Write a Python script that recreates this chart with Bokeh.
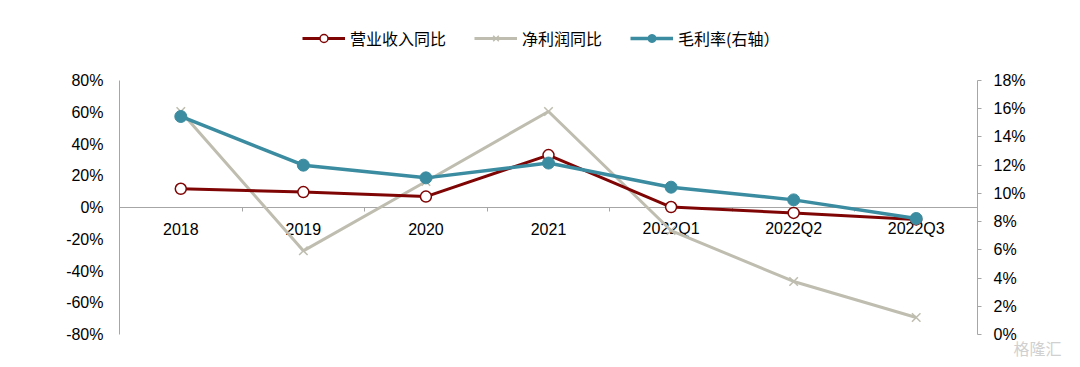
from bokeh.plotting import figure
from bokeh.models import (Range1d, LinearAxis, FixedTicker, CustomJSTickFormatter,
                          PrintfTickFormatter, Legend, LegendItem, Title)
from bokeh.core.properties import value
from bokeh.embed import file_html
from bokeh.resources import INLINE

categories = ["2018", "2019", "2020", "2021", "2022Q1", "2022Q2", "2022Q3"]
revenue_yoy = [11.8, 9.7, 6.9, 33.0, 0.3, -3.4, -7.5]          # 营业收入同比 (%)
profit_yoy = [60.5, -27.3, 16.4, 60.5, -14.5, -46.6, -69.3]     # 净利润同比 (%)
gross_margin = [15.45, 12.0, 11.1, 12.15, 10.44, 9.54, 8.22]    # 毛利率 (%, right axis)
left_ticks = [-80, -60, -40, -20, 0, 20, 40, 60, 80]
right_ticks = [0, 2, 4, 6, 8, 10, 12, 14, 16, 18]

RED = "#7F0505"
GREY = "#BEBDAF"
TEAL = "#3B8CA0"
AXIS = "#A6A6A6"
FONT = "Liberation Sans"
CJK = "Noto Sans CJK SC"

xs = [i + 0.5 for i in range(len(categories))]

# frame extends above the axes so that the legend sits inside it
p = figure(frame_width=858, frame_height=312, output_backend="svg", toolbar_location=None,
           x_range=Range1d(0, len(categories)), y_range=Range1d(-80, 116.54),
           x_axis_location=None, y_axis_location=None,
           min_border_left=119, min_border_right=87, min_border_top=22, min_border_bottom=0)
p.outline_line_color = None
p.xgrid.visible = False
p.ygrid.visible = False
p.extra_y_ranges = {"right": Range1d(0, 22.11)}

# x axis line + boundary ticks at y = 0
xaxis = LinearAxis(ticker=FixedTicker(ticks=xs, minor_ticks=list(range(1, len(categories)))),
                   formatter=CustomJSTickFormatter(code="return '';"))
xaxis.fixed_location = 0
xaxis.axis_line_color = AXIS
xaxis.major_tick_line_color = None
xaxis.major_tick_in = 0
xaxis.major_tick_out = 0
xaxis.minor_tick_line_color = AXIS
xaxis.minor_tick_in = 0
xaxis.minor_tick_out = 4
xaxis.major_label_standoff = 0
xaxis.major_label_text_font_size = "0px"
xaxis.level = "underlay"
p.add_layout(xaxis, "below")

# left axis
laxis = LinearAxis(ticker=FixedTicker(ticks=left_ticks), formatter=PrintfTickFormatter(format="%d%%"),
                   bounds=(-80, 80))
laxis.axis_line_color = AXIS
laxis.major_tick_line_color = None
laxis.major_tick_in = 0
laxis.major_tick_out = 0
laxis.minor_tick_line_color = None
laxis.major_label_standoff = 16
laxis.major_label_text_font = FONT
laxis.major_label_text_font_size = "16px"
laxis.major_label_text_color = "#000000"
p.add_layout(laxis, "left")

# right axis
raxis = LinearAxis(y_range_name="right", ticker=FixedTicker(ticks=right_ticks),
                   formatter=PrintfTickFormatter(format="%d%%"), bounds=(0, 18))
raxis.axis_line_color = AXIS
raxis.major_tick_line_color = AXIS
raxis.major_tick_in = 0
raxis.major_tick_out = 4
raxis.minor_tick_line_color = None
raxis.major_label_standoff = 12
raxis.major_label_text_font = FONT
raxis.major_label_text_font_size = "16px"
raxis.major_label_text_color = "#000000"
p.add_layout(raxis, "right")

# category labels just under the zero line
p.text(x=xs, y=[0] * len(categories), text=categories, text_align="center",
       text_baseline="middle", y_offset=21, text_font=value(FONT),
       text_font_size="16px", text_color="#000000")

# series
l_profit = p.line(xs, profit_yoy, line_color=GREY, line_width=3)
m_profit = p.scatter(xs, profit_yoy, marker="x", size=12, line_color=GREY, line_width=1.5)

l_rev = p.line(xs, revenue_yoy, line_color=RED, line_width=3)
m_rev = p.scatter(xs, revenue_yoy, marker="circle", size=11, fill_color="white",
                  line_color=RED, line_width=1.5)

l_gm = p.line(xs, gross_margin, line_color=TEAL, line_width=3.5, y_range_name="right")
m_gm = p.scatter(xs, gross_margin, marker="circle", size=12, fill_color=TEAL,
                 line_color=TEAL, y_range_name="right")

legend = Legend(items=[
    LegendItem(label="营业收入同比", renderers=[l_rev, m_rev]),
    LegendItem(label="净利润同比", renderers=[l_profit, m_profit]),
    LegendItem(label="毛利率(右轴）", renderers=[l_gm, m_gm]),
], location=(183, 284), orientation="horizontal")
legend.border_line_color = None
legend.background_fill_alpha = 0
legend.padding = 0
legend.margin = 0
legend.spacing = 28
legend.glyph_width = 43
legend.glyph_height = 20
legend.label_standoff = 5
legend.label_height = 20
legend.label_text_font = CJK
legend.label_text_font_size = "16px"
legend.label_text_color = "#000000"
legend.label_text_baseline = "middle"
p.add_layout(legend, "center")

wm = Title(text="格隆汇", align="right", offset=-84, standoff=0, vertical_align="middle",
           text_font=CJK, text_font_size="16px", text_font_style="normal", text_color="#D0D0D0")
p.add_layout(wm, "below")

open("out.html", "w").write(file_html(p, INLINE))
